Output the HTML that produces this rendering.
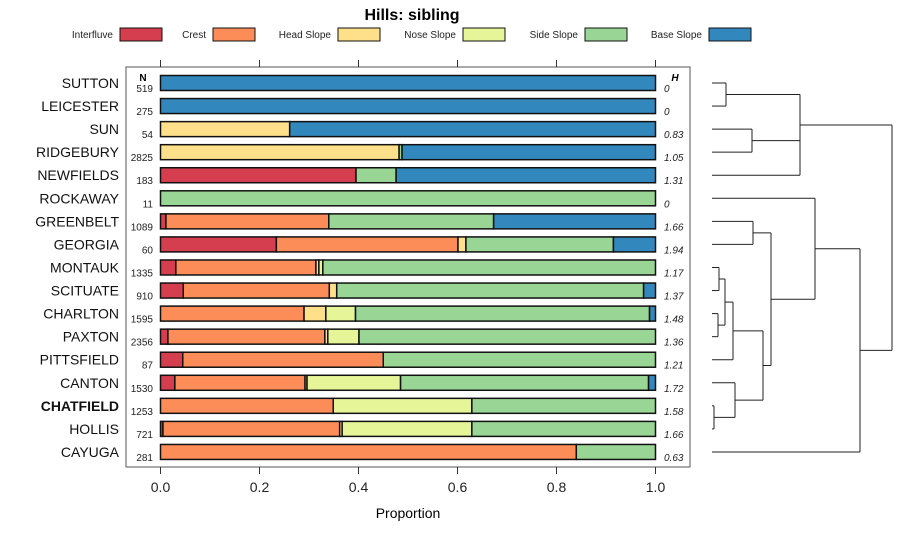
<!DOCTYPE html>
<html><head><meta charset="utf-8"><style>
body{margin:0;background:#fff}
svg{font-family:"Liberation Sans",sans-serif}
</style></head><body>
<svg id="chart" width="900" height="540" xmlns="http://www.w3.org/2000/svg">
<text x="412" y="20" font-size="16" font-weight="bold" text-anchor="middle">Hills: sibling</text>
<g id="legend"></g>
<rect x="126" y="67" width="564" height="400" fill="none" stroke="#555"/>
<g id="axes"></g>
<g id="bars"></g>
<g id="dendro" stroke="#222" stroke-width="1" fill="none"></g>
<text x="408" y="518" font-size="14" text-anchor="middle">Proportion</text>
</svg>
<script>
const categories=["Interfluve","Crest","Head Slope","Nose Slope","Side Slope","Base Slope"];
const colors=["#D53E4F","#FC8D59","#FEE08B","#E6F598","#99D594","#3288BD"];
const soils=["SUTTON","LEICESTER","SUN","RIDGEBURY","NEWFIELDS","ROCKAWAY","GREENBELT","GEORGIA","MONTAUK","SCITUATE","CHARLTON","PAXTON","PITTSFIELD","CANTON","CHATFIELD","HOLLIS","CAYUGA"];
const nValues=[519,275,54,2825,183,11,1089,60,1335,910,1595,2356,87,1530,1253,721,281];
const hValues=["0","0","0.83","1.05","1.31","0","1.66","1.94","1.17","1.37","1.48","1.36","1.21","1.72","1.58","1.66","0.63"];
const interfluve=[0,0,0,0,0.395,0,0.011,0.234,0.031,0.046,0,0.015,0.045,0.029,0,0.005,0];
const crest=[0,0,0,0,0,0,0.329,0.367,0.283,0.295,0.29,0.317,0.405,0.263,0.349,0.357,0.84];
const headSlope=[0,0,0.261,0.482,0,0,0,0.016,0.006,0.015,0.044,0.006,0,0.004,0,0.005,0];
const noseSlope=[0,0,0,0,0,0,0,0,0.008,0,0.06,0.063,0,0.189,0.28,0.262,0];
const sideSlope=[0,0,0,0.006,0.081,1,0.333,0.298,0.672,0.62,0.594,0.599,0.55,0.501,0.371,0.371,0.16];
const baseSlope=[1,1,0.739,0.512,0.524,0,0.327,0.085,0,0.024,0.012,0,0,0.014,0,0,0];
const xTicks=[0,0.2,0.4,0.6,0.8,1.0];
const xTickLabels=["0.0","0.2","0.4","0.6","0.8","1.0"];
const NS="http://www.w3.org/2000/svg";
const X=v=>160.5+v*495, Y=i=>83+i*23.06;
function mk(tag,attrs,parent,txt){const e=document.createElementNS(NS,tag);for(const k in attrs)e.setAttribute(k,attrs[k]);if(txt!==undefined)e.textContent=txt;parent.appendChild(e);return e;}
const leg=document.getElementById('legend');
const legX=[120,213,338,463,585,709];
categories.forEach((c,i)=>{
 const t=mk('text',{x:legX[i]-7,y:38,'font-size':10,'text-anchor':'end',fill:'#222'},leg,c);
 
 
 const sw=mk('rect',{x:legX[i],y:28,width:42,height:13,fill:colors[i],stroke:'#111'},leg);
 
 
});
const ax=document.getElementById('axes');
xTicks.forEach((v,i)=>{
 mk('line',{x1:X(v),x2:X(v),y1:60,y2:67,stroke:'#333'},ax);
 mk('line',{x1:X(v),x2:X(v),y1:467,y2:474,stroke:'#333'},ax);
 const t=mk('text',{x:X(v),y:492,'font-size':14,'text-anchor':'middle',fill:'#222'},ax,xTickLabels[i]);
 
 
});
mk('text',{x:143,y:81,'font-size':10,'font-weight':'bold','text-anchor':'middle'},ax,'N');
mk('text',{x:675,y:81,'font-size':10,'font-weight':'bold','font-style':'italic','text-anchor':'middle'},ax,'H');
const series=[interfluve,crest,headSlope,noseSlope,sideSlope,baseSlope];
const bars=document.getElementById('bars');
soils.forEach((s,i)=>{
 const y=Y(i);
 const lab=mk('text',{x:119,y:y+5,'font-size':14,'text-anchor':'end','font-weight':s==='CHATFIELD'?'bold':'normal',fill:'#111'},bars,s);
 
 
 const n=mk('text',{x:153,y:y+9,'font-size':10,'text-anchor':'end',fill:'#222'},bars,nValues[i]);
 
 
 const h=mk('text',{x:664,y:y+9,'font-size':10,'font-style':'italic',fill:'#222'},bars,hValues[i]);
 
 
 let cum=0;
 series.forEach((arr,k)=>{
  const v=arr[i]; if(v<=0)return;
  const bar=mk('rect',{x:X(cum),y:y-7.5,width:X(cum+v)-X(cum),height:15,fill:colors[k],stroke:'#111','stroke-width':1.5},bars);
  
  
  cum+=v;
 });
});
const dg=document.getElementById('dendro');
function seg(x1,y1,x2,y2){mk('line',{x1,y1,x2,y2},dg);}
function merge(xa,ya,xb,yb,xm){seg(xa,ya,xm,ya);seg(xb,yb,xm,yb);seg(xm,ya,xm,yb);return (ya+yb)/2;}
const L=712;
const ga=merge(L,Y(0),L,Y(1),726);
const gb=merge(L,Y(2),L,Y(3),752);
seg(752,gb,800,gb);seg(726,ga,800,ga);seg(L,Y(4),800,Y(4));seg(800,ga,800,Y(4));
const topY=125;
const gg=merge(L,Y(6),L,Y(7),753);
const gm1=merge(L,Y(8),L,Y(9),719);
const gc=merge(L,Y(10),L,Y(11),718);
const gmc=merge(719,gm1,718,gc,725);
const gmp=merge(725,gmc,L,Y(12),733);
const gch=merge(L,Y(14),L,Y(15),714);
const gca=merge(L,Y(13),714,gch,735);
const gmid=merge(733,gmp,735,gca,763);
const ggm=merge(753,gg,763,gmid,771);
const rk=merge(L,Y(5),771,ggm,815);
const gcy=merge(815,rk,L,Y(16),860);
merge(800,topY,860,gcy,892);
</script>
</body></html>
